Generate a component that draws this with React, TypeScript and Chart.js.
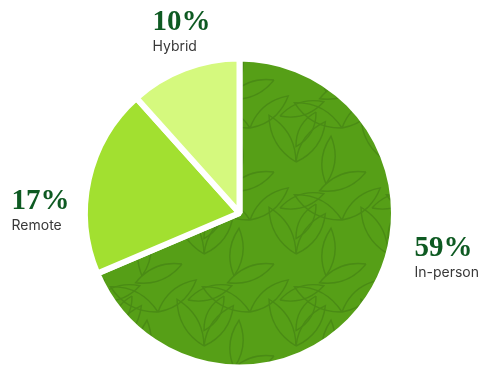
import React, { useEffect, useRef } from "react";
import { Chart, registerables } from "chart.js";

Chart.register(...registerables);

const categories = ["In-person", "Remote", "Hybrid"];
const shares = [59, 17, 10];
const percentLabels = ["59%", "17%", "10%"];
const sliceColors = ["#569f17", "#a2e030", "#d5f97e"];
// label anchors relative to pie centre: [left x offset, percent-baseline y offset]
const labelOffsets = [
  [175, 43],
  [-228, -4],
  [-87, -183],
];

function makeLeafPattern(target: CanvasRenderingContext2D, base: string) {
  const T = 92;
  const c = document.createElement("canvas");
  c.width = T;
  c.height = T;
  const g = c.getContext("2d")!;
  g.fillStyle = base;
  g.fillRect(0, 0, T, T);
  g.strokeStyle = "#4a8b15";
  g.lineWidth = 1.4;
  const leaves = [
    [20, 70, -30, 54, 15],
    [20, 70, 36, 50, 14],
    [66, 36, -62, 54, 15],
    [66, 36, 50, 50, 14],
    [50, 92, 6, 48, 13],
    [90, 80, -112, 50, 14],
    [4, 24, 72, 46, 13],
    [40, 20, -150, 40, 12],
  ];
  for (const [x, y, a, L, w] of leaves) {
    for (const dx of [-T, 0, T]) {
      for (const dy of [-T, 0, T]) {
        g.save();
        g.translate(x + dx, y + dy);
        g.rotate((a * Math.PI) / 180);
        g.beginPath();
        g.moveTo(0, 0);
        g.quadraticCurveTo(w, -L / 2, 0, -L);
        g.quadraticCurveTo(-w, -L / 2, 0, 0);
        g.stroke();
        g.restore();
      }
    }
  }
  return target.createPattern(c, "repeat");
}

const labelPlugin = {
  id: "sliceLabels",
  afterDraw(chart: any) {
    const meta = chart.getDatasetMeta(0);
    const arc = meta.data[0];
    if (!arc) return;
    const cx = arc.x;
    const cy = arc.y;
    const ctx = chart.ctx;
    ctx.save();
    ctx.textAlign = "left";
    ctx.textBaseline = "alphabetic";
    categories.forEach((cat, i) => {
      const [ox, oy] = labelOffsets[i];
      const x = cx + ox;
      const y = cy + oy;
      ctx.fillStyle = "#0e5a22";
      ctx.font = "bold 29px 'Liberation Serif', serif";
      ctx.fillText(percentLabels[i], x, y);
      ctx.fillStyle = "#383838";
      ctx.font = "14px Inter, 'Noto Sans', sans-serif";
      ctx.fillText(cat, x, y + 21);
    });
    ctx.restore();
  },
};

export default function App() {
  const ref = useRef<HTMLCanvasElement>(null);
  useEffect(() => {
    const canvas = ref.current!;
    const ctx = canvas.getContext("2d")!;
    const pattern = makeLeafPattern(ctx, sliceColors[0]);
    const colors: any[] = [pattern, sliceColors[1], sliceColors[2]];
    const chart = new Chart(canvas, {
      type: "pie",
      data: {
        labels: categories,
        datasets: [
          {
            data: shares,
            backgroundColor: colors,
            borderColor: "#ffffff",
            borderWidth: 6,
          },
        ],
      },
      options: {
        responsive: false,
        animation: false,
        layout: { padding: { top: 55, bottom: 0, left: 82, right: 84 } },
        plugins: {
          legend: { display: false },
          tooltip: { enabled: false },
        },
      },
      plugins: [labelPlugin],
    });
    return () => chart.destroy();
  }, []);
  return (
    <div style={{ position: "fixed", left: 0, top: 0, width: 481, height: 366, overflow: "hidden", background: "#fff" }}>
      <canvas ref={ref} width={481} height={371} style={{ width: 481, height: 371, display: "block" }} />
    </div>
  );
}
